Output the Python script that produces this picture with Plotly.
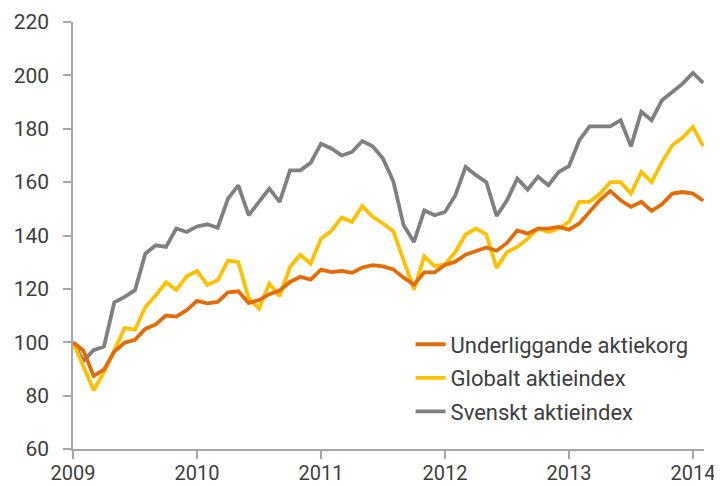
import plotly.graph_objects as go

# Monthly observations, Jan 2009 .. Feb 2014
start_year = 2009
n_months = 62
months = [start_year + i / 12 for i in range(n_months)]

underliggande = [
    100, 96.9, 87.4, 89.7, 96.5, 99.8, 100.9, 105, 106.7, 110, 109.6, 112,
    115.5, 114.6, 115.1, 118.7, 119.1, 114.7, 115.8, 118, 119.4, 122.6, 124.5, 123.5,
    127.2, 126.3, 126.7, 126, 128, 128.9, 128.4, 127.3, 124.2, 121.6, 126.2, 126.2,
    129, 130.2, 132.8, 134.3, 135.5, 134.3, 137.2, 141.9, 140.7, 142.6, 142.6, 143.2,
    142.2, 144.5, 148.8, 153.3, 156.7, 153.2, 150.7, 152.6, 149.2, 151.7, 155.7, 156.3,
    155.7, 153,
]
globalt = [
    100, 91, 82, 88.8, 96.9, 105.3, 104.7, 113.2, 117.5, 122.4, 119.6, 124.7,
    126.7, 121.5, 123.2, 130.6, 130, 116.5, 112.6, 122, 117.3, 128.2, 132.8, 129.4,
    138.8, 141.7, 146.7, 145.1, 151, 147, 144.5, 141.6, 130.7, 119.7, 132.2, 128.5,
    129.2, 133.8, 140.4, 142.6, 140.4, 127.8, 133.8, 135.7, 138.8, 142.6, 141.3, 142.6,
    145.1, 152.6, 152.6, 155.6, 160, 160, 155.7, 163.8, 160, 167.5, 173.8, 176.7,
    180.7, 173.4,
]
svenskt = [
    100, 93, 97, 98.4, 115, 117, 119.5, 133.2, 136.3, 135.7, 142.6, 141.3,
    143.4, 144.2, 142.9, 153.8, 158.8, 147.6, 152.6, 157.6, 152.6, 164.4, 164.4, 167.2,
    174.4, 172.6, 170, 171.3, 175.4, 173.4, 168.8, 160.3, 143.8, 137.6, 149.4, 147.6,
    148.8, 155, 165.7, 162.6, 160, 147.3, 153.2, 161.3, 157.2, 162, 158.8, 163.8,
    166, 175.7, 180.9, 180.9, 180.9, 183.2, 173.4, 186.4, 183.2, 190.7, 193.8, 196.9,
    200.9, 197.2,
]

series_names = ["Underliggande aktiekorg", "Globalt aktieindex", "Svenskt aktieindex"]
series_values = [underliggande, globalt, svenskt]
series_colors = ["#E36C09", "#FFC000", "#808080"]

x_ticks = [2009, 2010, 2011, 2012, 2013, 2014]
y_ticks = [60, 80, 100, 120, 140, 160, 180, 200, 220]

FONT = "Roboto, Liberation Sans, sans-serif"

fig = go.Figure()
# draw gray first so orange stays on top like the reference
order = [2, 1, 0]
for k in order:
    fig.add_trace(go.Scatter(
        x=months, y=series_values[k], name=series_names[k], mode="lines",
        line=dict(color=series_colors[k], width=3.8),
        legendgroup=series_names[k], legendrank=k + 1,
    ))

axis_color = "#A6A6A6"
fig.update_layout(
    width=714, height=478,
    margin=dict(l=65, r=18, t=14, b=37, autoexpand=False),
    paper_bgcolor="white", plot_bgcolor="white",
    font=dict(family=FONT, size=21, color="#3d3d3d"),
    showlegend=True,
    legend=dict(
        x=0.535, y=0.294, xanchor="left", yanchor="top",
        bgcolor="rgba(0,0,0,0)", font=dict(size=22),
        tracegroupgap=2, itemwidth=30,
    ),
    xaxis=dict(
        range=[2009, 2014.089], tickvals=x_ticks, ticktext=[str(t) for t in x_ticks],
        showgrid=False, zeroline=False, showline=True, linecolor=axis_color, linewidth=1.5,
        ticks="outside", ticklen=8, tickcolor=axis_color, tickwidth=1.5,
        tickfont=dict(size=20), ticklabelstandoff=-3, automargin=False,
    ),
    yaxis=dict(
        range=[60, 220], tickvals=y_ticks,
        showgrid=False, zeroline=False, showline=True, linecolor=axis_color, linewidth=1.5,
        ticks="outside", ticklen=8, tickcolor=axis_color, tickwidth=1.5,
        ticklabelstandoff=10, automargin=False,
    ),
)

fig.write_html("out.html")
